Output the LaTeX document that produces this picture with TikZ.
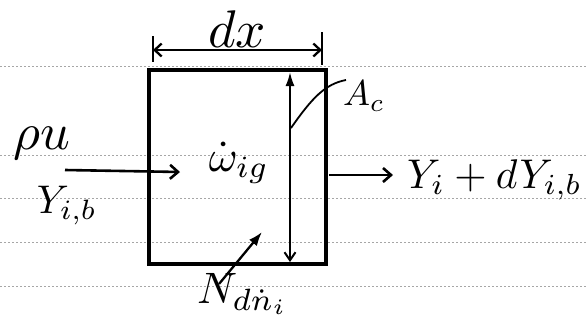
\documentclass[tikz,border=0pt]{standalone}
\usepackage{amsmath}
\usepackage{graphicx}
\usetikzlibrary{arrows.meta}
\newcommand\hwtext[2]{\scalebox{#1}{$#2$}}
\tikzset{
  ruled/.style={black!35, line width=0.5pt, dash pattern=on 1.5pt off 2.5pt},
  boxst/.style={draw, line width=3.3pt, rectangle, inner sep=0pt},
  flow/.style={line width=2.6pt, -{Straight Barb[length=8pt,width=14pt,line width=2.6pt]}},
  dimline/.style={line width=2.3pt, {Straight Barb[length=7pt,width=13pt,line width=2.3pt]}-{Straight Barb[length=7pt,width=13pt,line width=2.3pt]}},
  tick/.style={line width=2.6pt},
  lbl/.style={inner sep=0pt},
}
\begin{document}
\begin{tikzpicture}[x=1pt,y=-1pt]
\useasboundingbox (0,0) rectangle (587,327);
% faint ruled lines
\foreach \yy in {66,155,198,242,286}{
  \draw[ruled] (0,\yy) -- (587,\yy);
}
% control volume
\node[boxst, minimum width=177pt, minimum height=194pt] (box) at (237.5,167) {};
% dimension dx
\coordinate (dxl) at (153,50);
\coordinate (dxr) at (322,50);
\draw[tick] (153,36) -- (153,62);
\draw[tick] (322,32) -- (322,65);
\draw[dimline] (dxl) -- (dxr);
\node[lbl] (dx) at (237,29) {\hwtext{5.3}{dx}};
% area arrow
\coordinate (ab) at (290,262);
\coordinate (at) at (290,72);
\draw[line width=2pt, {Straight Barb[length=8pt,width=11pt,line width=2pt]}-{Latex[length=14pt,width=9pt]}] (ab) -- (at);
% A_c leader
\coordinate (acs) at (291,128);
\coordinate (ace) at (346,80);
\node[lbl, anchor=west] (Ac) at (343,96) {\hwtext{3.6}{A_c}};
\draw[line width=1.8pt] (acs) .. controls (312,98) and (325,84) .. (ace);
% inflow
\node[lbl] (rhou) at (42,143) {\hwtext{5.2}{\rho u}};
\coordinate (inS) at (65,170);
\coordinate (inE) at (180,172);
\draw[flow] (inS) -- (inE);
\node[lbl] (Yin) at (67,206) {\hwtext{4}{Y_{i,b}}};
% source term
\node[lbl] (omega) at (239,163) {\hwtext{4.4}{\dot{\omega}_{ig}}};
% outflow
\coordinate (outS) at (329,175);
\coordinate (outE) at (393,175);
\draw[flow] (outS) -- (outE);
\node[lbl, anchor=west] (Yout) at (407,180) {\hwtext{4.15}{Y_i + dY_{i,b}}};
% wall flux
\node[lbl] (N) at (243,294) {\hwtext{4.4}{N_{d\dot{n}_i}}};
\coordinate (nS) at (219,284);
\coordinate (nE) at (262,232);
\draw[line width=2.3pt, -{Latex[length=14pt,width=10pt]}] (nS) -- (nE);
\end{tikzpicture}
\end{document}
